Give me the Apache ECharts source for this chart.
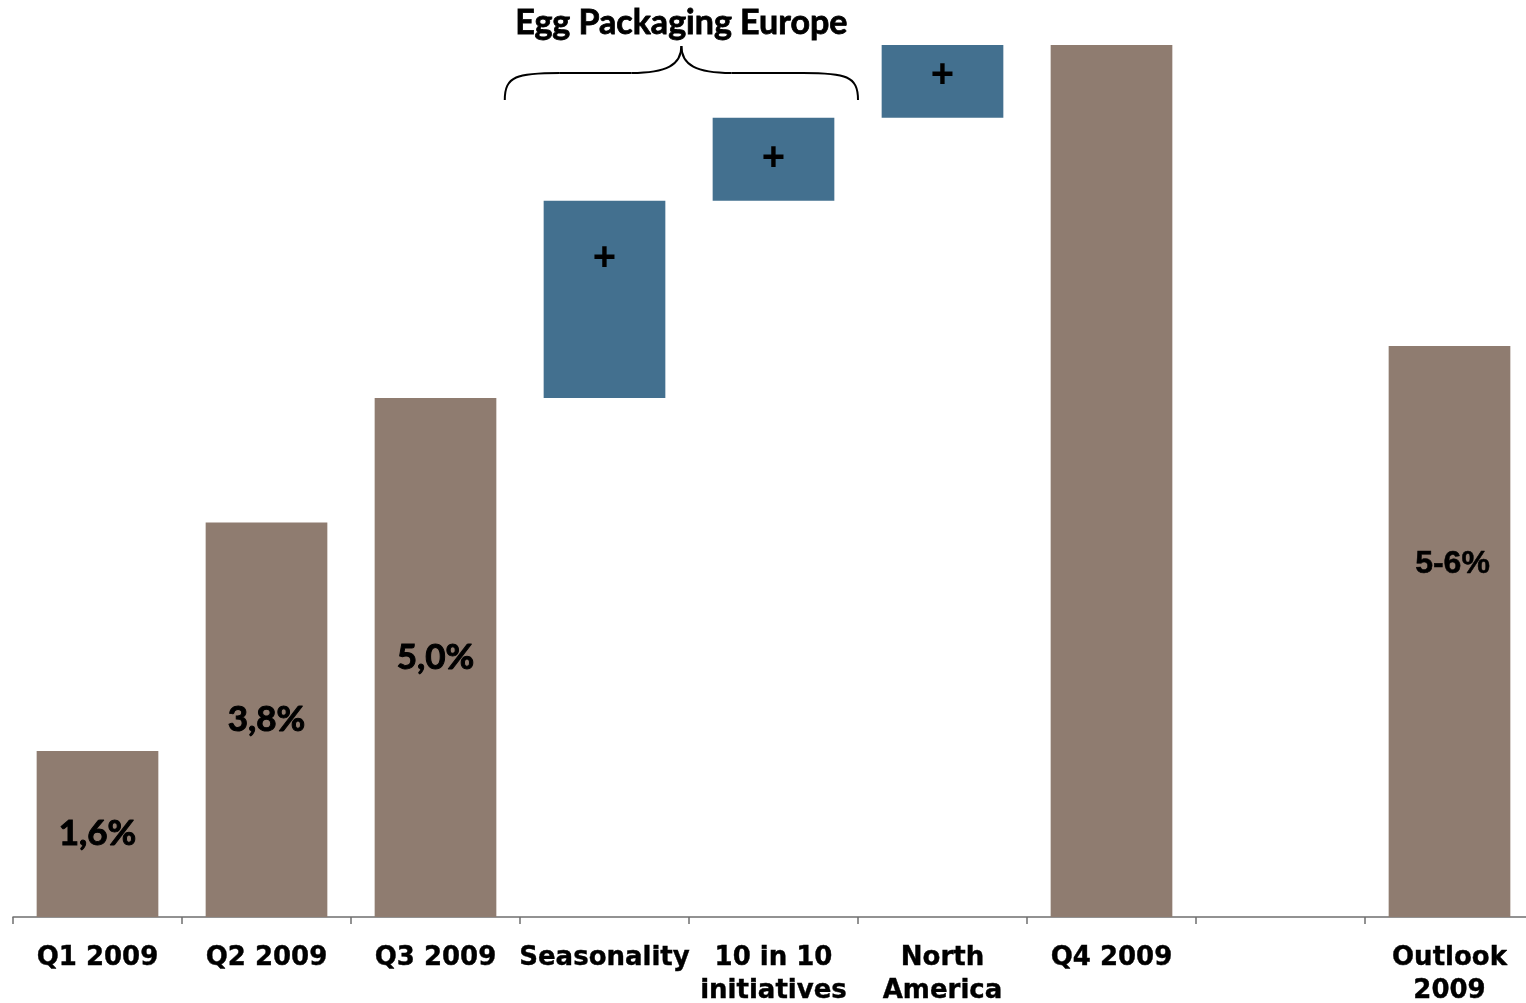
<!DOCTYPE html>
<html>
<head>
<meta charset="utf-8">
<script src="https://cdn.jsdelivr.net/npm/echarts@6/dist/echarts.min.js"></script>
<style>
html,body{margin:0;padding:0;background:#fff;}
#chart{width:1526px;height:1003px;}
</style>
</head>
<body>
<div id="chart"></div>
<script>
// ---- data ----
const categories = ['Q1 2009', 'Q2 2009', 'Q3 2009', 'Seasonality', '10 in 10\ninitiatives', 'North\nAmerica', 'Q4 2009', '', 'Outlook\n2009'];
const totals =     [1.6, 3.8, 5.0, null, null, null, 8.4, null, 5.5];
const increments = [null, null, null, 1.9, 0.8, 0.7, null, null, null];
const totalLabels = ['1,6%', '3,8%', '5,0%', '', '', '', '', '', '5-6%'];
const incrementLabels = ['', '', '', '+', '+', '+', '', '', ''];
const bracketTitle = 'Egg Packaging Europe';

// base for increments = running cumulative
const base = [];
let running = 0;
for (let i = 0; i < categories.length; i++) {
  if (totals[i] != null) { running = totals[i]; base.push('-'); }
  else if (increments[i] != null) { base.push(running); running += increments[i]; }
  else base.push('-');
}
const yMax = Math.max(...totals.filter(v => v != null));

const BROWN = '#8f7c70';
const BLUE = '#43708f';

// per-item label placement (style only)
const incLabelOffsets = {3: [0, -40], 4: [0, 0], 5: [0, -5]};

const totalData = totals.map((v, i) => {
  if (v == null) return '-';
  const item = {value: v};
  if (i === 8) {
    item.label = {
      show: true, position: 'inside', color: '#000',
      fontFamily: 'Liberation Sans', fontWeight: 'bold', fontSize: 32, offset: [3, -67],
      textBorderColor: '#000', textBorderWidth: 0.5
    };
  }
  return item;
});
const incData = increments.map((v, i) => {
  if (v == null) return '-';
  return {value: v, label: {show: true, position: 'inside', offset: incLabelOffsets[i] || [0, 0]}};
});

const chart = echarts.init(document.getElementById('chart'));
chart.setOption({
  animation: false,
  backgroundColor: '#fff',
  grid: {left: 13, right: -8, top: 45, bottom: 86, containLabel: false, outerBoundsMode: 'none'},
  xAxis: {
    type: 'category',
    data: categories,
    axisLine: {lineStyle: {color: '#6f6f6f', width: 1.5}},
    axisTick: {show: true, length: 7, lineStyle: {color: '#6f6f6f', width: 1.5}},
    axisLabel: {
      interval: 0,
      margin: 25,
      color: '#000',
      fontFamily: '"DejaVu Sans", Verdana, sans-serif',
      fontWeight: 'bold',
      fontSize: 26,
      lineHeight: 33,
      textBorderColor: '#000',
      textBorderWidth: 0.4
    }
  },
  yAxis: {type: 'value', min: 0, max: yMax, show: false, splitLine: {show: false}},
  series: [
    {
      name: 'base', type: 'bar', stack: 'w', data: base, barWidth: '72%',
      itemStyle: {color: 'transparent'}, silent: true
    },
    {
      name: 'total', type: 'bar', stack: 'w', data: totalData, barWidth: '72%',
      itemStyle: {color: BROWN},
      label: {
        show: true, position: 'inside', color: '#000',
        fontFamily: 'Lato', fontWeight: 'bold', fontSize: 35,
        textBorderColor: '#000', textBorderWidth: 1,
        formatter: p => totalLabels[p.dataIndex]
      }
    },
    {
      name: 'increment', type: 'bar', stack: 'w', data: incData, barWidth: '72%',
      itemStyle: {color: BLUE},
      label: {
        show: true, position: 'inside', color: '#000',
        fontFamily: 'Liberation Sans', fontWeight: 'bold', fontSize: 40,
        formatter: p => incrementLabels[p.dataIndex]
      }
    }
  ]
});

// bracket over the Egg Packaging Europe items (Seasonality .. 10 in 10)
function drawBracket() {
  const c0 = chart.convertToPixel({xAxisIndex: 0}, categories[3]);
  const c1 = chart.convertToPixel({xAxisIndex: 0}, categories[4]);
  const band = c1 - c0;
  const x0 = c0 - 0.59 * band;
  const x1 = c1 + 0.5 * band;
  const xm = (x0 + x1) / 2;
  const yEnd = 100, yMid = 73, yTip = 46;
  const st = {stroke: '#000', lineWidth: 2, fill: null};
  chart.setOption({
    graphic: [
      {type: 'bezierCurve', shape: {x1: x0, y1: yEnd, x2: x0 + 55, y2: yMid, cpx1: x0, cpy1: yMid + 3, cpx2: x0 + 12, cpy2: yMid}, style: st},
      {type: 'line', shape: {x1: x0 + 55, y1: yMid, x2: xm - 50, y2: yMid}, style: st},
      {type: 'bezierCurve', shape: {x1: xm - 50, y1: yMid, x2: xm, y2: yTip, cpx1: xm - 15, cpy1: yMid, cpx2: xm, cpy2: yMid - 8}, style: st},
      {type: 'bezierCurve', shape: {x1: xm + 50, y1: yMid, x2: xm, y2: yTip, cpx1: xm + 15, cpy1: yMid, cpx2: xm, cpy2: yMid - 8}, style: st},
      {type: 'line', shape: {x1: xm + 50, y1: yMid, x2: x1 - 55, y2: yMid}, style: st},
      {type: 'bezierCurve', shape: {x1: x1, y1: yEnd, x2: x1 - 55, y2: yMid, cpx1: x1, cpy1: yMid + 3, cpx2: x1 - 12, cpy2: yMid}, style: st},
      {type: 'text', x: xm, y: 23, style: {
        text: bracketTitle, align: 'center', verticalAlign: 'middle',
        font: 'bold 34px Lato', fill: '#000', stroke: '#000', lineWidth: 0.8
      }}
    ]
  });
}
drawBracket();
</script>
</body>
</html>
